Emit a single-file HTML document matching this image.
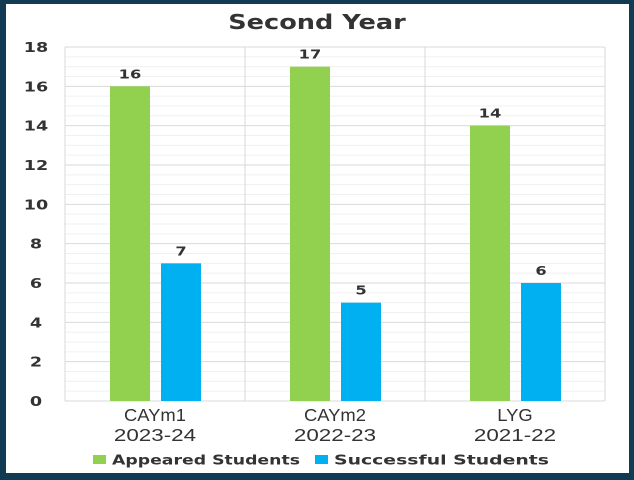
<!DOCTYPE html>
<html><head><meta charset="utf-8"><style>
body{margin:0;width:634px;height:480px;overflow:hidden;background:#fff;font-family:"Liberation Sans",sans-serif}
#frame{position:absolute;left:0;top:0;width:634px;height:480px;box-sizing:border-box;border-style:solid;border-color:#123a52;border-width:4px 5px 7px 6px;background:#fff}
</style></head><body>
<div id="frame"></div>
<svg id="chart" width="634" height="480" style="position:absolute;left:0;top:0"></svg>
<script>
const categories=["CAYm1","CAYm2","LYG"];
const years=["2023-24","2022-23","2021-22"];
const appeared=[16,17,14];
const successful=[7,5,6];
const yTicks=[0,2,4,6,8,10,12,14,16,18];
const seriesNames=["Appeared Students","Successful Students"];
const colors=["#92d050","#00b0f0"];
const NS="http://www.w3.org/2000/svg";
const svg=document.getElementById('chart');
const L=65,R=605,T=47,B=401,yMax=18;
const DJ='"DejaVu Sans",sans-serif';
const y=v=>B-(v/yMax)*(B-T);
const gw=(R-L)/categories.length;
const x=i=>L+i*gw;
function mk(t,a,p){const e=document.createElementNS(NS,t);for(const k in a)e.setAttribute(k,a[k]);(p||svg).appendChild(e);return e;}
function stretch(t,f){const w=t.getComputedTextLength();t.setAttribute('textLength',w*f);t.setAttribute('lengthAdjust','spacingAndGlyphs');}
const title=mk('text',{x:317,y:29,'text-anchor':'middle','font-size':20,'font-weight':'bold',fill:'#333','font-family':DJ});
title.textContent="Second Year";


stretch(title,1.28);
for(let v=0;v<=yMax;v+=0.5){const l=mk('line',{x1:L,x2:R,y1:y(v),y2:y(v),stroke:v%2===0?'#d9d9d9':'#f0f0f0','stroke-width':1});

}
for(let i=0;i<=categories.length;i++){const l=mk('line',{x1:x(i),x2:x(i),y1:T,y2:B,stroke:'#d9d9d9'});

}
yTicks.forEach(v=>{const t=mk('text',{x:36,y:y(v)+5,'text-anchor':'middle','font-size':13,'font-weight':'bold',fill:'#333','font-family':DJ});t.textContent=v;


stretch(t,1.35);});
const bw=40;
[appeared,successful].forEach((arr,s)=>{arr.forEach((v,i)=>{
const bx=x(i)+45+s*51;
const r=mk('rect',{x:bx,y:y(v),width:bw,height:B-y(v),fill:colors[s]});


const t=mk('text',{x:bx+bw/2,y:y(v)-8,'text-anchor':'middle','font-size':12.5,'font-weight':'bold',fill:'#333','font-family':DJ});t.textContent=v;


stretch(t,1.3);});});
categories.forEach((c,i)=>{const cx=x(i)+gw/2;
const t=mk('text',{x:cx,y:421,'text-anchor':'middle','font-size':17.5,fill:'#333'});t.textContent=c;


stretch(t,1.05);
const t2=mk('text',{x:cx,y:441,'text-anchor':'middle','font-size':17.5,fill:'#333'});t2.textContent=years[i];


stretch(t2,1.28);});
const lx=[93,315];
const lw=[188,215];
seriesNames.forEach((n,s)=>{const g=mk('g',{});


mk('rect',{x:lx[s],y:455,width:13,height:9,fill:colors[s]},g);
const t=mk('text',{x:lx[s]+19,y:464.5,'font-size':13.5,'font-weight':'bold',fill:'#333','font-family':DJ,textLength:lw[s],lengthAdjust:'spacingAndGlyphs'},g);t.textContent=n;});
</script>
</body></html>
